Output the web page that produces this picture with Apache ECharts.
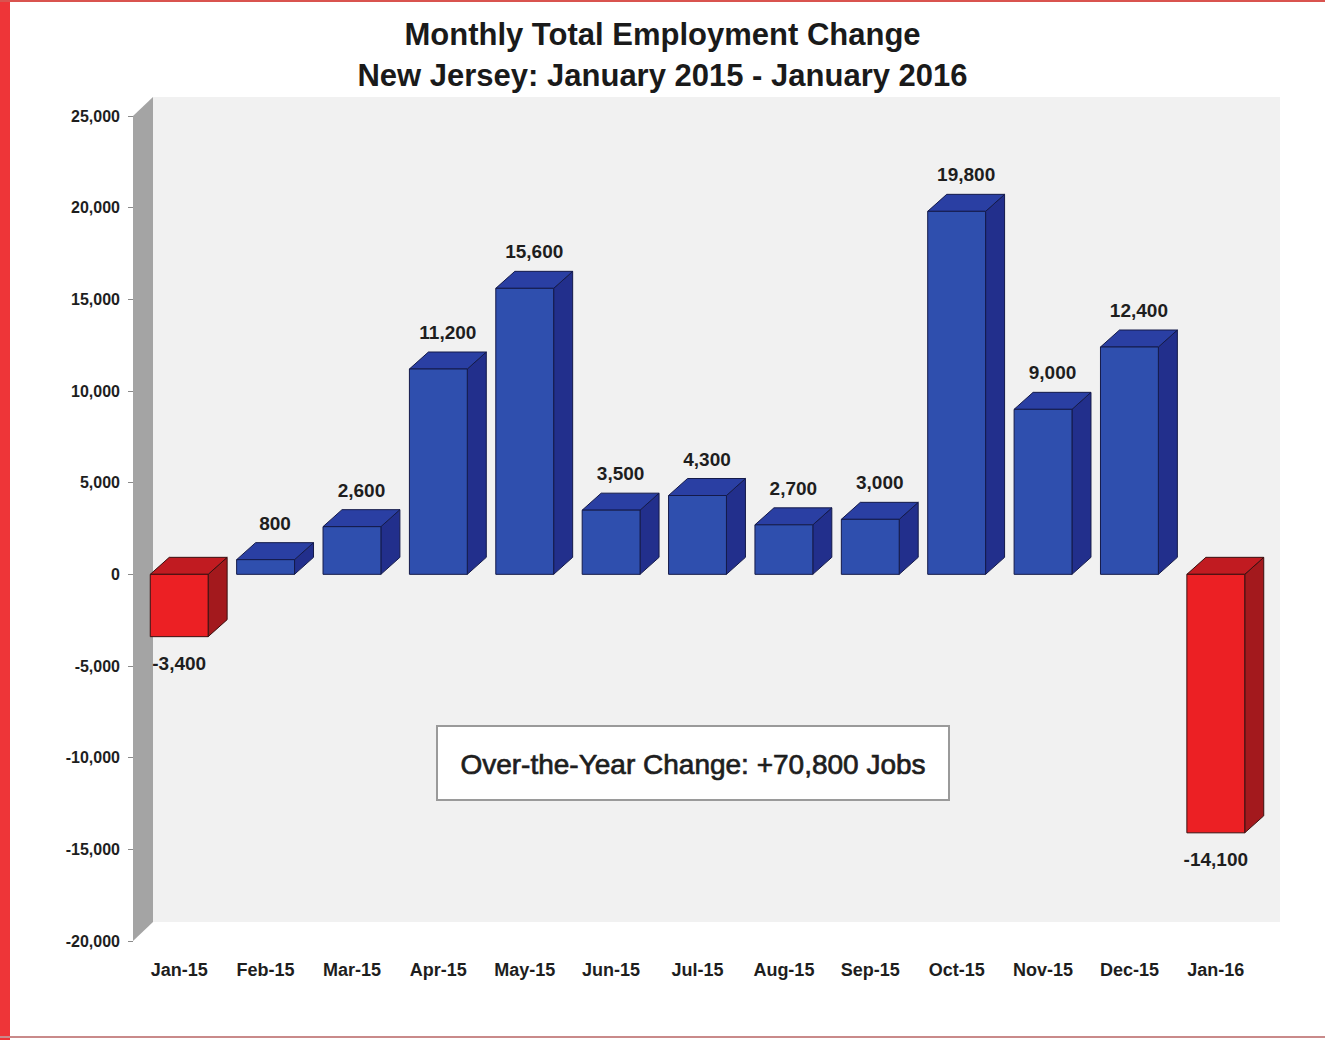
<!DOCTYPE html>
<html>
<head>
<meta charset="utf-8">
<script src="https://cdn.jsdelivr.net/npm/echarts@6/dist/echarts.min.js"></script>
<style>
html,body{margin:0;padding:0;background:#fff;}
#chart{width:1325px;height:1040px;}
</style>
</head>
<body>
<div id="chart"></div>
<script>
var categories = ['Jan-15','Feb-15','Mar-15','Apr-15','May-15','Jun-15','Jul-15','Aug-15','Sep-15','Oct-15','Nov-15','Dec-15','Jan-16'];
var values = [-3400, 800, 2600, 11200, 15600, 3500, 4300, 2700, 3000, 19800, 9000, 12400, -14100];
var yMin = -20000, yMax = 25000, yStep = 5000;
var titleLines = ['Monthly Total Employment Change', 'New Jersey: January 2015 - January 2016'];
var noteText = 'Over-the-Year Change: +70,800 Jobs';

var FONT = '"Liberation Sans", Arial, sans-serif';
var DX = 19, DY = -17;

function fmt(v){ return v.toLocaleString('en-US'); }

var chart = echarts.init(document.getElementById('chart'), null, {renderer: 'svg'});

function renderWalls(params, api){
  var cs = params.coordSys;
  var x0 = cs.x - 3, top = cs.y, bot = cs.y + cs.height, right = cs.x + cs.width;
  return {
    type: 'group',
    children: [
      {type: 'rect', shape: {x: x0 + 20, y: top - 19, width: right + 21 - (x0 + 20), height: cs.height}, style: {fill: '#f1f1f1'}},
      {type: 'polygon', shape: {points: [[x0, top], [x0 + 20, top - 19], [x0 + 20, bot - 19], [x0, bot]]}, style: {fill: '#a4a4a4'}}
    ]
  };
}

function renderBar(params, api){
  var idx = api.value(0), v = api.value(1);
  var p0 = api.coord([idx, 0]), p1 = api.coord([idx, v]);
  var bw = api.size([1, 0])[0] * 0.67;
  var cx = p0[0];
  var x1 = cx - bw / 2, x2 = cx + bw / 2;
  var yT = Math.min(p0[1], p1[1]), yB = Math.max(p0[1], p1[1]);
  var neg = v < 0;
  var front = neg ? '#ec2024' : '#2f4fae';
  var side = neg ? '#a3191d' : '#222f8c';
  var topc = neg ? '#c11b21' : '#2a3fa3';
  var edge = neg ? '#3a1010' : '#141a4a';
  var lbl = neg
    ? {type: 'text', x: cx, y: yB + 17, style: {text: fmt(v), font: 'bold 19px ' + FONT, fill: '#1e1e1e', align: 'center', verticalAlign: 'top'}}
    : {type: 'text', x: cx + DX / 2, y: yT + DY - 10, style: {text: fmt(v), font: 'bold 19px ' + FONT, fill: '#1e1e1e', align: 'center', verticalAlign: 'bottom'}};
  return {
    type: 'group',
    children: [
      {type: 'polygon', shape: {points: [[x2, yT], [x2 + DX, yT + DY], [x2 + DX, yB + DY], [x2, yB]]}, style: {fill: side, stroke: edge, lineWidth: 1}},
      {type: 'polygon', shape: {points: [[x1, yT], [x1 + DX, yT + DY], [x2 + DX, yT + DY], [x2, yT]]}, style: {fill: topc, stroke: edge, lineWidth: 1}},
      {type: 'rect', shape: {x: x1, y: yT, width: bw, height: yB - yT}, style: {fill: front, stroke: edge, lineWidth: 1}},
      lbl
    ]
  };
}

var option = {
  backgroundColor: '#ffffff',
  animation: false,
  title: {
    text: titleLines.join('\n'),
    left: 'center',
    top: 9,
    textStyle: {fontFamily: FONT, fontWeight: 'bold', fontSize: 31, lineHeight: 41, color: '#1a1a1a'}
  },
  grid: {left: 136, right: 66, top: 116, bottom: 99, containLabel: false},
  xAxis: {
    type: 'category',
    data: categories,
    axisLine: {show: false, onZero: false},
    axisTick: {show: false},
    splitLine: {show: false},
    axisLabel: {interval: 0, fontFamily: FONT, fontWeight: 'bold', fontSize: 18, color: '#1e1e1e', margin: 20}
  },
  yAxis: {
    type: 'value',
    min: yMin, max: yMax, interval: yStep,
    offset: 3,
    axisLine: {show: false},
    axisTick: {show: true, length: 5, lineStyle: {color: '#8a8a8a'}},
    splitLine: {show: false},
    axisLabel: {fontFamily: FONT, fontWeight: 'bold', fontSize: 16, color: '#1e1e1e', margin: 13, formatter: function(v){ return fmt(v); }}
  },
  graphic: [
    {type: 'rect', z: 100, shape: {x: 0, y: 0, width: 10, height: 1040}, style: {fill: '#ee3538'}},
    {type: 'rect', z: 100, shape: {x: 0, y: 0, width: 1325, height: 2}, style: {fill: '#d9534f'}},
    {type: 'rect', z: 100, shape: {x: 0, y: 1036, width: 1325, height: 2}, style: {fill: '#c98a8a'}},
    {type: 'rect', z: 100, shape: {x: 437, y: 726, width: 512, height: 74}, style: {fill: '#ffffff', stroke: '#9a9a9a', lineWidth: 2}},
    {type: 'text', z: 101, x: 693, y: 764, style: {text: noteText, font: '28px ' + FONT, fill: '#1e1e1e', stroke: '#1e1e1e', lineWidth: 0.7, align: 'center', verticalAlign: 'middle'}}
  ],
  series: [
    {type: 'custom', z: 1, silent: true, renderItem: renderWalls, data: [[0, 0]]},
    {type: 'custom', z: 2, renderItem: renderBar, data: values.map(function(v, i){ return [i, v]; })}
  ]
};
chart.setOption(option);
</script>
</body>
</html>
